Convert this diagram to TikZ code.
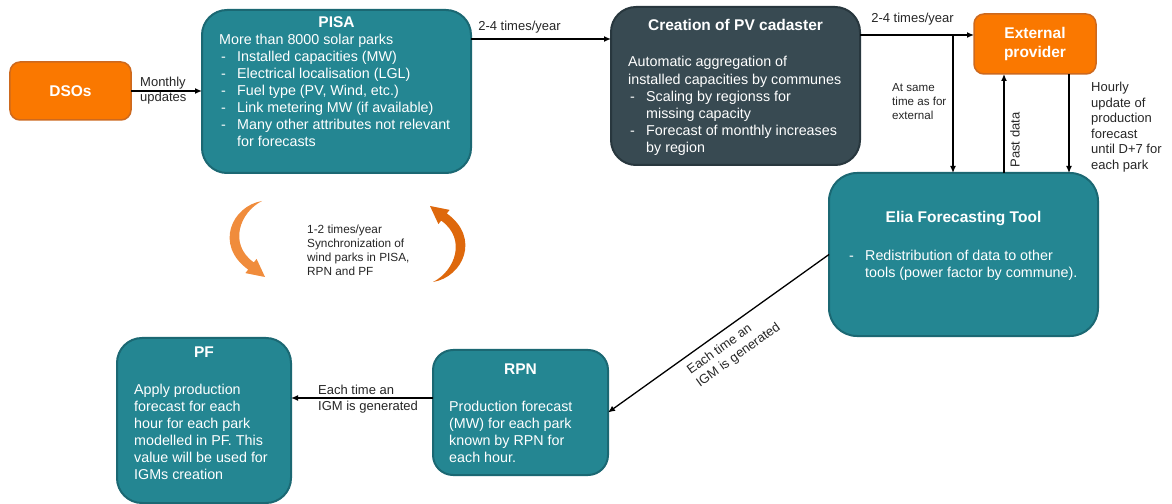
\documentclass[tikz,border=0pt]{standalone}
\usepackage{fontspec}
\setmainfont{Liberation Sans}
\usetikzlibrary{arrows.meta}
\definecolor{tealfill}{RGB}{36,134,146}
\definecolor{tealline}{RGB}{27,104,115}
\definecolor{slatefill}{RGB}{56,74,82}
\definecolor{slateline}{RGB}{40,55,62}
\definecolor{orfill}{RGB}{250,120,0}
\definecolor{orline}{RGB}{205,105,30}
\definecolor{arrlight}{RGB}{240,140,60}
\definecolor{arrdark}{RGB}{222,104,12}
\newcommand{\bul}[1]{\makebox[18bp][l]{\hspace{2bp}-}#1}
\newcommand{\ind}[1]{\hspace{18bp}#1}
\tikzset{
  boxbase/.style={draw, line width=2bp, inner sep=0pt, outer sep=0pt},
  tealbox/.style={boxbase, fill=tealfill, draw=tealline},
  slatebox/.style={boxbase, fill=slatefill, draw=slateline},
  orbox/.style={boxbase, fill=orfill, draw=orline, line width=1.5bp},
  ttl/.style={text=white, font=\fontsize{15.5bp}{18.5bp}\selectfont\bfseries, inner sep=0pt, align=center},
  bodytxt/.style={text=white, font=\fontsize{14.3bp}{17bp}\selectfont, inner sep=0pt, align=left, anchor=base west},
  lbl/.style={text=black!85, font=\fontsize{13bp}{15.5bp}\selectfont, inner sep=0pt, align=left},
  arr/.style={-{Latex[length=7bp,width=6bp]}, line width=1.3bp, black},
}
\begin{document}
\begin{tikzpicture}[x=1bp,y=-1bp]
\useasboundingbox (0,0) rectangle (1172,504);

% boxes
\node[orbox, rounded corners=10bp, minimum width=121bp, minimum height=58bp] (dsos) at (70.5,91) {};
\node[tealbox, rounded corners=25bp, minimum width=269bp, minimum height=163bp] (pisa) at (336.5,91.5) {};
\node[slatebox, rounded corners=25bp, minimum width=249bp, minimum height=158bp] (pv) at (735.5,86) {};
\node[orbox, rounded corners=10bp, minimum width=122bp, minimum height=60bp] (ext) at (1035,44) {};
\node[tealbox, rounded corners=28bp, minimum width=269bp, minimum height=163bp] (elia) at (963.5,254.5) {};
\node[tealbox, rounded corners=20bp, minimum width=175bp, minimum height=125bp] (rpn) at (520.5,412.5) {};
\node[tealbox, rounded corners=25bp, minimum width=174bp, minimum height=165bp] (pf) at (204,420.5) {};

% texts in boxes (base west = baseline of the last line)
\node[ttl] (dsost) at (70.5,91) {DSOs};
\node[ttl] (extt) at (1035,44) {External\\provider};
\node[ttl] (pisat) at (336.5,22) {PISA};
\node[bodytxt] (pisab) at (219,146.5) {More than 8000 solar parks\\
\bul{Installed capacities (MW)}\\
\bul{Electrical localisation (LGL)}\\
\bul{Fuel type (PV, Wind, etc.)}\\
\bul{Link metering MW (if available)}\\
\bul{Many other attributes not relevant}\\
\ind{for forecasts}};
\node[ttl] (pvt) at (735.5,25) {Creation of PV cadaster};
\node[bodytxt, font=\fontsize{14.3bp}{17.2bp}\selectfont] (pvb) at (628,153) {Automatic aggregation of\\
installed capacities by communes\\
\bul{Scaling by regionss for}\\
\ind{missing capacity}\\
\bul{Forecast of monthly increases}\\
\ind{by region}};
\node[ttl] (eliat) at (963.5,219) {Elia Forecasting Tool};
\node[bodytxt] (eliab) at (847,278) {\bul{Redistribution of data to other}\\
\ind{tools (power factor by commune).}};
\node[ttl] (rpnt) at (520.5,369) {RPN};
\node[bodytxt, font=\fontsize{14.3bp}{16.8bp}\selectfont] (rpnb) at (449,462) {Production forecast\\
(MW) for each park\\
known by RPN for\\
each hour.};
\node[ttl] (pft) at (204,352) {PF};
\node[bodytxt] (pfb) at (134,479) {Apply production\\
forecast for each\\
hour for each park\\
modelled in PF. This\\
value will be used for\\
IGMs creation};

% helper coordinates
\coordinate (ya) at (0,39);
\coordinate (yb) at (0,35);
\coordinate (br) at (953,35);
\coordinate (pdx) at (1004,0);
\coordinate (hx) at (1069,0);
\coordinate (yc) at (0,398);

% connectors
\draw[arr] (dsos.east) -- (pisa.west |- dsos.east);
\draw[arr] (pisa.east |- ya) -- (pv.west |- ya);
\draw[arr] (pv.east |- yb) -- (ext.west |- yb);
\draw[arr] (br) -- (br |- elia.north);
\draw[arr] (elia.north -| pdx) -- (ext.south -| pdx);
\draw[arr] (ext.south -| hx) -- (elia.north -| hx);
\draw[arr] (elia.west) -- (rpn.east);
\draw[arr] (rpn.west |- yc) -- (pf.east |- yc);

% labels
\node[lbl, anchor=west] (l1) at (140,90.5) {Monthly\\updates};
\node[lbl] (l2) at (519.5,27) {2-4 times/year};
\node[lbl] (l3) at (912.5,19) {2-4 times/year};
\node[lbl, anchor=west, font=\fontsize{11.6bp}{13.6bp}\selectfont] (l4) at (892,101.5) {At same\\time as for\\external};
\node[lbl, rotate=90] (l5) at (1015,140) {Past data};
\node[lbl, anchor=north west] (l6) at (1091,82) {Hourly\\update of\\production\\forecast\\until D+7 for\\each park};
\node[lbl, anchor=west] (l7) at (318,399) {Each time an\\IGM is generated};
\node[lbl, rotate=35.7] (l8) at (734,349) {Each time an\\IGM is generated};
\node[lbl, anchor=west, font=\fontsize{11.8bp}{14bp}\selectfont] (l9) at (307,250) {1-2 times/year\\Synchronization of\\wind parks in PISA,\\RPN and PF};

% orange curved arrows
\fill[arrlight] (262,201) .. controls (232,206) and (214,245) .. (248.2,269.6)
  -- (245.4,273.1) -- (265,277) -- (256.6,258.9) -- (253.8,262.4)
  .. controls (228,244) and (240,212) .. (262,201) -- cycle;
\begin{scope}[shift={(695,483)}, xscale=-1, yscale=-1]
\fill[arrdark] (262,201) .. controls (232,206) and (214,245) .. (248.2,269.6)
  -- (245.4,273.1) -- (265,277) -- (256.6,258.9) -- (253.8,262.4)
  .. controls (228,244) and (240,212) .. (262,201) -- cycle;
\end{scope}
\end{tikzpicture}
\end{document}
